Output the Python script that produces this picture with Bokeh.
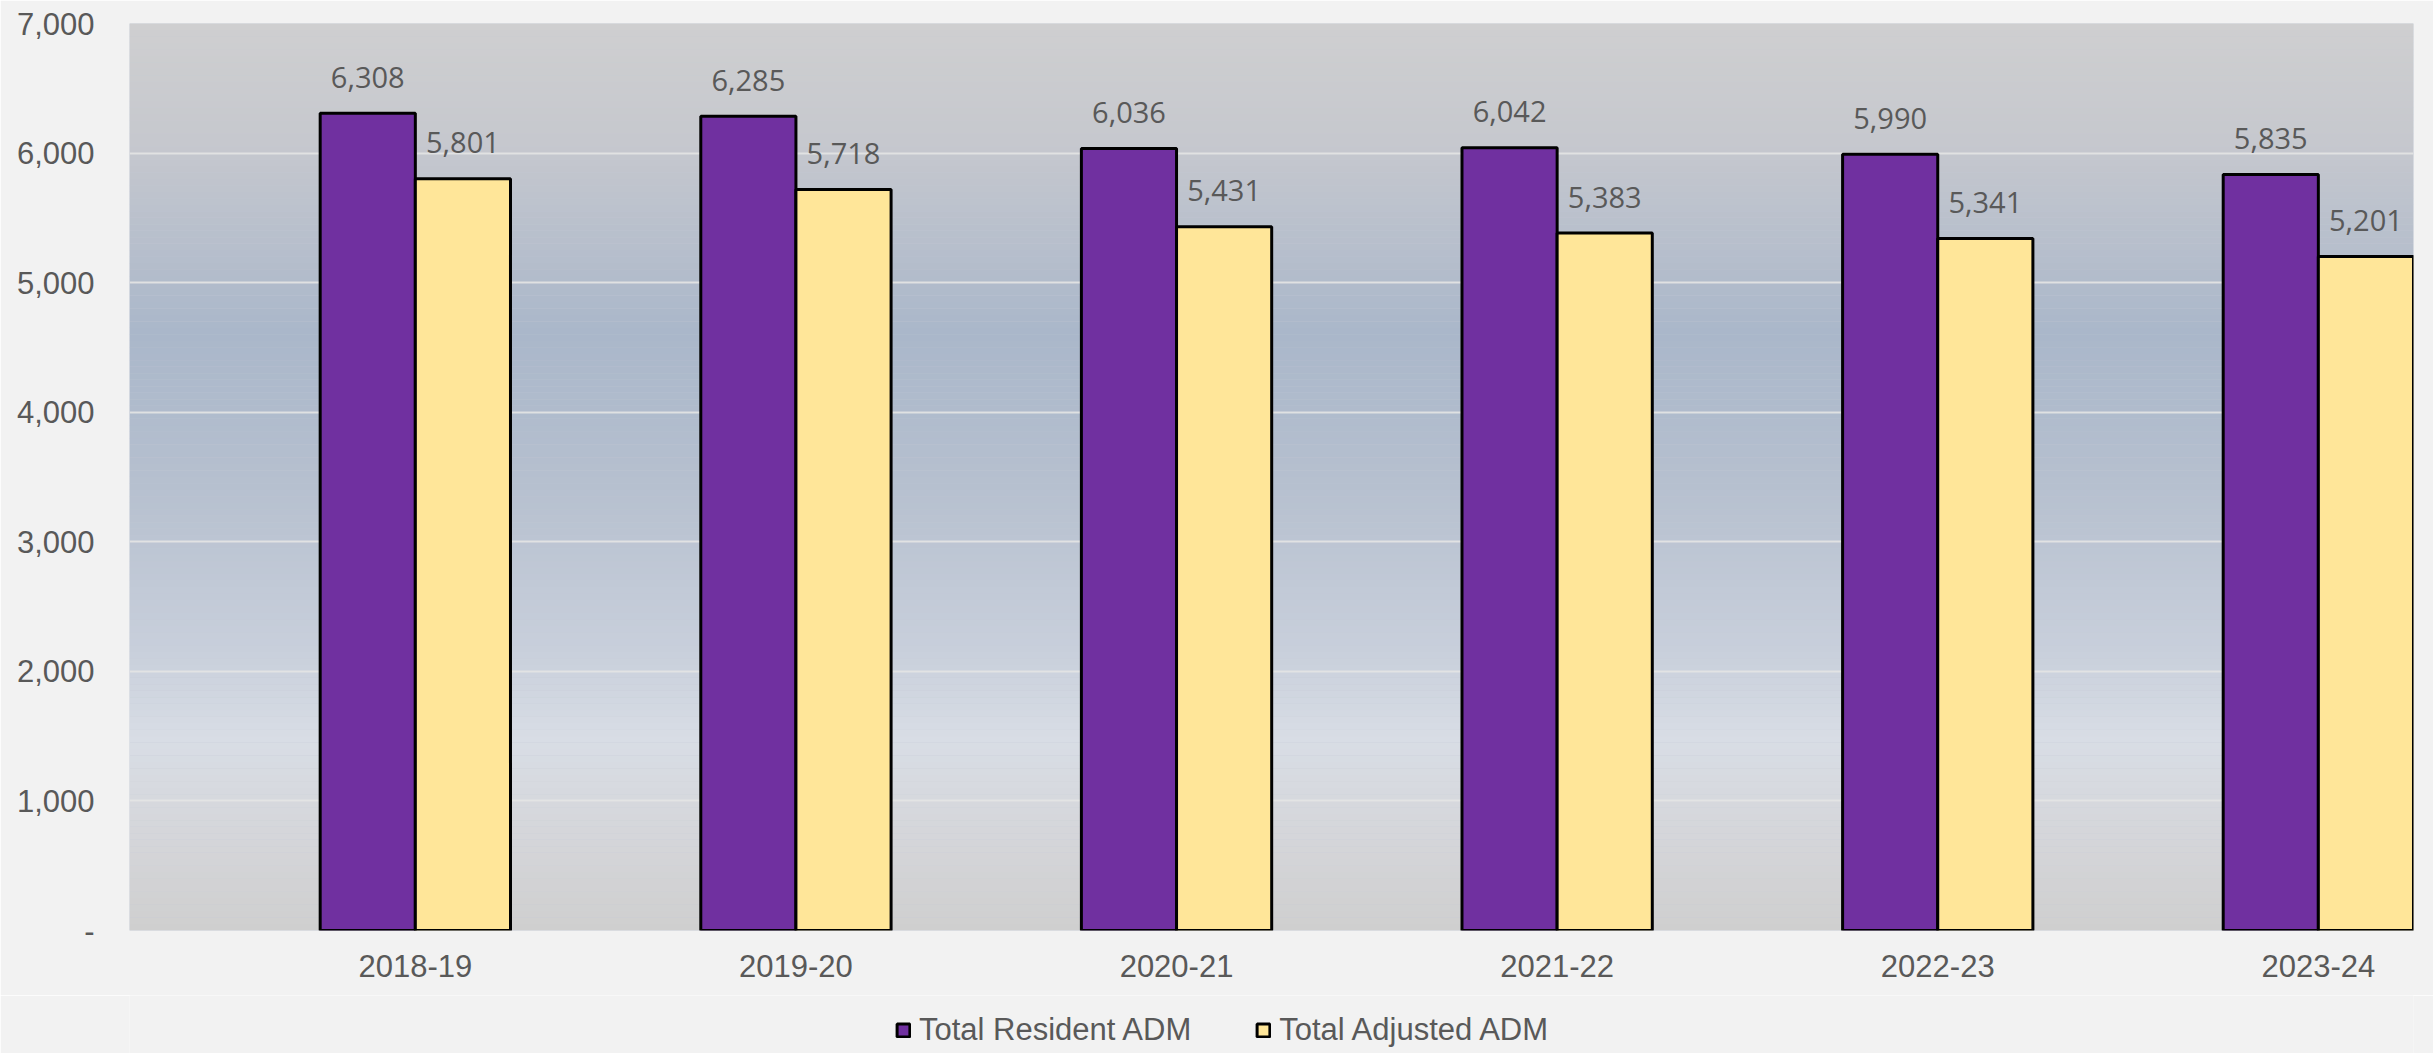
import numpy as np
from bokeh.plotting import figure
from bokeh.layouts import column
from bokeh.models import (Range1d, FixedTicker, NumeralTickFormatter, BoxAnnotation,
                          Legend, LegendItem, ColumnDataSource)
from bokeh.core.properties import value
from bokeh.embed import file_html
from bokeh.resources import INLINE

# ---- data ----
years = ["2018-19", "2019-20", "2020-21", "2021-22", "2022-23", "2023-24"]
resident_adm = [6308, 6285, 6036, 6042, 5990, 5835]
adjusted_adm = [5801, 5718, 5431, 5383, 5341, 5201]
y_ticks = [0, 1000, 2000, 3000, 4000, 5000, 6000, 7000]
series_names = ["Total Resident ADM", "Total Adjusted ADM"]

PURPLE = "#7030a0"
GOLD = "#ffe699"
TXT = "#595959"
BG = "#f2f2f2"
W = 2433

xs = np.arange(len(years), dtype=float)
bar_w = 0.25

src = ColumnDataSource(dict(
    xr=xs - bar_w / 2, xa=xs + bar_w / 2,
    res=resident_adm, adj=adjusted_adm,
    res_lbl=[f"{v:,}" for v in resident_adm],
    adj_lbl=[f"{v:,}" for v in adjusted_adm],
))

p = figure(width=W, height=995, output_backend="svg", toolbar_location=None,
           x_range=Range1d(-0.751, 5.25), y_range=Range1d(0, 7000))
p.min_border_left = 129
p.min_border_right = 20
p.min_border_top = 23
p.min_border_bottom = 65
p.border_fill_color = BG
p.background_fill_color = "#c4c9d4"
p.outline_line_color = None

# background gradient (vertical) drawn as thin strips below the grid
stops_v = [0, 750, 1470, 2180, 3430, 4600, 6100, 7000]
stops_c = [(207, 207, 207), (213, 214, 218), (216, 221, 229), (200, 207, 219),
           (182, 192, 207), (170, 183, 202), (198, 200, 206), (207, 207, 208)]
n_strips = 140
edges = np.linspace(0, 7000, n_strips + 1)
for i in range(n_strips):
    mid = (edges[i] + edges[i + 1]) / 2
    rgb = [int(round(np.interp(mid, stops_v, [c[k] for c in stops_c]))) for k in range(3)]
    p.add_layout(BoxAnnotation(bottom=edges[i], top=edges[i + 1] + 1,
                               fill_color="#%02x%02x%02x" % tuple(rgb), fill_alpha=1.0,
                               line_alpha=0, level="image"))

# grid
p.xgrid.grid_line_color = None
p.ygrid.grid_line_color = "#e4e4e4"
p.ygrid.grid_line_width = 2
p.ygrid.grid_line_alpha = 0.9

# bars
p.vbar(x="xr", top="res", width=bar_w, source=src, fill_color=PURPLE,
       line_color="black", line_width=3)
p.vbar(x="xa", top="adj", width=bar_w, source=src, fill_color=GOLD,
       line_color="black", line_width=3)

# data labels
for xcol, ycol, lcol in (("xr", "res", "res_lbl"), ("xa", "adj", "adj_lbl")):
    p.text(x=xcol, y=ycol, text=lcol, source=src, text_align="center",
           text_baseline="alphabetic", y_offset=-36, text_color=TXT,
           text_font=value("Open Sans"), text_font_size="29px")

# axes
p.xaxis.ticker = FixedTicker(ticks=list(xs))
p.xaxis.major_label_overrides = {float(i): y for i, y in zip(xs, years)}
p.yaxis.ticker = FixedTicker(ticks=y_ticks)
p.yaxis.formatter = NumeralTickFormatter(format="0,0")
p.yaxis.major_label_overrides = {0: "-"}
for ax in (p.xaxis[0], p.yaxis[0]):
    ax.axis_line_color = None
    ax.major_tick_line_color = None
    ax.minor_tick_line_color = None
    ax.major_tick_out = 0
    ax.major_tick_in = 0
    ax.major_label_text_font = "Liberation Sans"
    ax.major_label_text_font_size = "31px"
    ax.major_label_text_color = TXT
p.xaxis.major_label_standoff = 24
p.yaxis.major_label_standoff = 35

# legend strip below the chart (proxy bars hidden; legend swatches still drawn)
lf = figure(width=W, height=58, output_backend="svg", toolbar_location=None,
            x_range=Range1d(1000, 1001), y_range=Range1d(-100000, -99999),
            x_axis_type=None, y_axis_type=None)
lf.min_border_left = lf.min_border_right = lf.min_border_top = lf.min_border_bottom = 0
lf.border_fill_color = BG
lf.background_fill_color = BG
lf.outline_line_color = None
lf.xgrid.visible = False
lf.ygrid.visible = False
g1 = lf.vbar(x="xr", top="res", width=bar_w, source=src,
             fill_color=PURPLE, line_color="black", line_width=3, visible=False)
g2 = lf.vbar(x="xa", top="adj", width=bar_w, source=src,
             fill_color=GOLD, line_color="black", line_width=3, visible=False)
legend = Legend(items=[LegendItem(label=series_names[0], renderers=[g1]),
                       LegendItem(label=series_names[1], renderers=[g2])],
                orientation="horizontal", location=(766, 5), margin=0, padding=0,
                spacing=64, glyph_width=16, glyph_height=16, label_standoff=8,
                click_policy="none",
                label_text_font="Liberation Sans", label_text_font_size="31px",
                label_text_color=TXT, background_fill_alpha=0, border_line_alpha=0)
lf.add_layout(legend, "center")

layout = column(p, lf, spacing=0)
open("out.html", "w").write(file_html(layout, INLINE))
